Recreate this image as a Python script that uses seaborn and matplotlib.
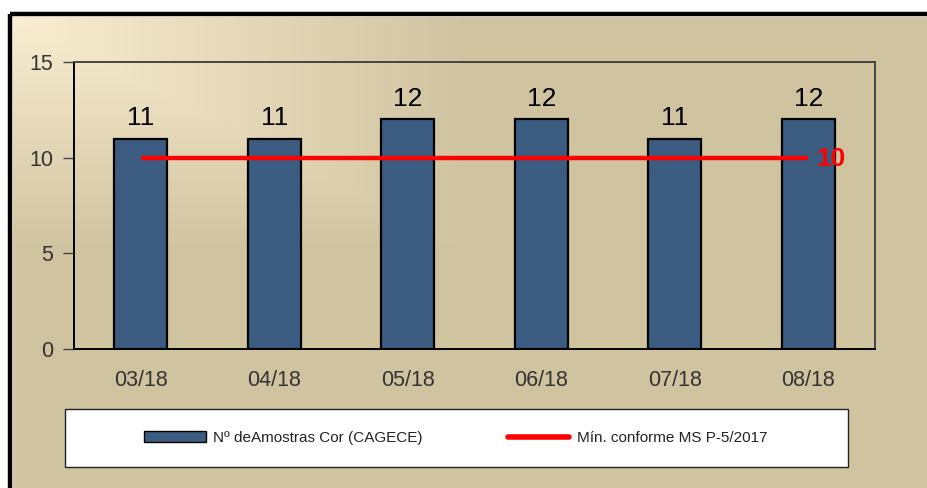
import numpy as np
import matplotlib
matplotlib.use("Agg")
import matplotlib.pyplot as plt
import seaborn as sns
import pandas as pd
from matplotlib.patches import Rectangle, Patch
from matplotlib.lines import Line2D

# ---- data ----
months = ["03/18", "04/18", "05/18", "06/18", "07/18", "08/18"]
amostras = [11, 11, 12, 12, 11, 12]
minimo = [10, 10, 10, 10, 10, 10]
yticks = [0, 5, 10, 15]
label_bar = "Nº deAmostras Cor (CAGECE)"
label_line = "Mín. conforme MS P-5/2017"

BAR = "#3B5B81"
RED = "#FF0000"
TAN = np.array([208, 195, 160]) / 255
LIGHT = np.array([250, 238, 210]) / 255

sns.set_style("white")
plt.rcParams["font.family"] = ["Liberation Sans", "DejaVu Sans"]

W, H = 927, 488
fig = plt.figure(figsize=(W / 100, H / 100), dpi=100)
fig.patch.set_facecolor("white")

# background with corner gradient
bg = fig.add_axes([0, 0, 1, 1], zorder=0)
bg.set_xlim(0, W)
bg.set_ylim(H, 0)
bg.axis("off")
xs = np.arange(13, W + 1)
ys = np.arange(17, H + 1)
X, Y = np.meshgrid(xs, ys)
t = np.clip(np.maximum((X - 13) / 457.0, (Y - 17) / 233.0), 0, 1)
img = LIGHT[None, None, :] * (1 - t[..., None]) + TAN[None, None, :] * t[..., None]
bg.imshow(img, extent=(13, W + 1, H + 1, 17), aspect="auto", interpolation="nearest")
bg.add_patch(Rectangle((10, 14), 2000, 2000, fill=False, edgecolor="black", lw=3.2))
# legend box
bg.add_patch(Rectangle((65, 409), 783, 58, facecolor="white", edgecolor="#222222", lw=1.0))

# main axes
ax = fig.add_axes([74 / W, 1 - 349 / H, (875 - 74) / W, (349 - 62) / H], zorder=2)
ax.set_facecolor("none")
df = pd.DataFrame({"mes": months, "n": amostras})
sns.barplot(data=df, x="mes", y="n", order=months, color=BAR, saturation=1,
            edgecolor="black", linewidth=1.6, width=0.4, ax=ax)
ax.plot(np.arange(len(months)), minimo, color=RED, lw=3.2, solid_capstyle="butt", zorder=5)
ax.annotate(str(minimo[-1]), xy=(len(months) - 1, minimo[-1]), xytext=(6, -1),
            textcoords="offset points", ha="left", va="center", color=RED,
            fontsize=19, fontweight="bold", zorder=6)
for c in ax.containers:
    ax.bar_label(c, labels=[str(v) for v in amostras], padding=6, fontsize=19, color="black")

ax.set_xlim(-0.5, len(months) - 0.5)
ax.set_ylim(0, 15)
ax.set_yticks(yticks)
ax.set_yticklabels([str(v) for v in yticks])
ax.set_xticks(np.arange(-0.5, len(months), 1))
ax.set_xticklabels([""] * (len(months) + 1))
ax.set_xticks(np.arange(len(months)), minor=True)
ax.set_xticklabels(months, minor=True)
ax.tick_params(axis="x", which="major", direction="out", length=8, width=1, color="#222222")
ax.tick_params(axis="x", which="minor", length=0, pad=15, labelsize=15.5, labelcolor="#333333")
ax.tick_params(axis="y", direction="out", length=8, width=1, color="#444444", pad=7,
               labelsize=15.5, labelcolor="#333333", left=True)
ax.set_xlabel("")
ax.set_ylabel("")
for s in ["left", "bottom"]:
    ax.spines[s].set_color("black")
    ax.spines[s].set_linewidth(1.4)
for s in ["top", "right"]:
    ax.spines[s].set_visible(True)
    ax.spines[s].set_color("#444444")
    ax.spines[s].set_linewidth(1.4)

handles = [Patch(facecolor=BAR, edgecolor="black", lw=1),
           Line2D([0], [0], color=RED, lw=4)]
fig.legend(handles, [label_bar, label_line], loc="center",
           bbox_to_anchor=(456 / W, 1 - 438 / H), ncol=2, frameon=False,
           fontsize=11, handlelength=4.0, handleheight=0.7, handletextpad=0.5,
           columnspacing=5.6, labelcolor="#222222")

fig.savefig("out.png", dpi=100)
